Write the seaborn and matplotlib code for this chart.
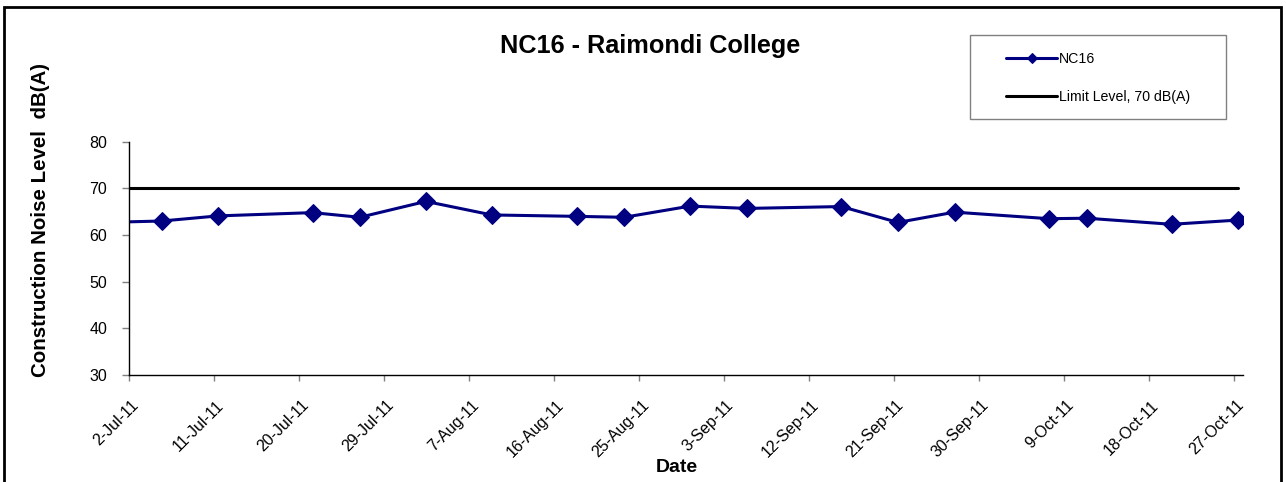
import matplotlib
matplotlib.use("Agg")
import matplotlib.pyplot as plt
import matplotlib.dates as mdates
from matplotlib.patches import Rectangle
from matplotlib.transforms import ScaledTranslation
import seaborn as sns
import pandas as pd

# ---------------- data ----------------
dates = ["2011-06-29 10:00", "2011-07-05 10:00", "2011-07-11 10:00", "2011-07-21 10:00",
         "2011-07-26 10:00", "2011-08-02 10:00", "2011-08-09 10:00", "2011-08-18 10:00",
         "2011-08-23 10:00", "2011-08-30 10:00", "2011-09-05 10:00", "2011-09-15 10:00",
         "2011-09-21 10:00", "2011-09-27 10:00", "2011-10-07 10:00", "2011-10-11 10:00",
         "2011-10-20 10:00", "2011-10-27 10:00"]
nc16 = [62.7, 63.0, 64.1, 64.8, 63.8, 67.2, 64.3, 64.0, 63.8, 66.2, 65.7, 66.1,
        62.7, 64.9, 63.5, 63.6, 62.3, 63.2]
limit = [70, 70, 70, 70, 70, 70, 70, 70, 70, 70, 70, 70, 70, 70, 70, 70, 70, 70]
tick_dates = ["2011-07-02", "2011-07-11", "2011-07-20", "2011-07-29", "2011-08-07",
              "2011-08-16", "2011-08-25", "2011-09-03", "2011-09-12", "2011-09-21",
              "2011-09-30", "2011-10-09", "2011-10-18", "2011-10-27"]
y_ticks = [30, 40, 50, 60, 70, 80]

df = pd.DataFrame({"date": pd.to_datetime(dates), "NC16": nc16, "limit": limit})

# ---------------- style ----------------
sns.set_style("white")
plt.rcParams["font.family"] = ["Liberation Sans", "DejaVu Sans"]
plt.rcParams["text.color"] = "black"
plt.rcParams["axes.labelcolor"] = "black"
plt.rcParams["xtick.color"] = "black"
plt.rcParams["ytick.color"] = "black"

W, H = 1286, 482
fig = plt.figure(figsize=(W / 100, H / 100), dpi=100)
x0, x1, y0, y1 = 129.3, 1243.3, 141.7, 375.0
ax = fig.add_axes([x0 / W, 1 - y1 / H, (x1 - x0) / W, (y1 - y0) / H])

sns.lineplot(data=df, x="date", y="NC16", ax=ax, color="#000080", linewidth=2.2,
             marker="D", markersize=9, markeredgecolor="#000080", label="NC16")
sns.lineplot(data=df, x="date", y="limit", ax=ax, color="black", linewidth=2.2,
             label="Limit Level, 70 dB(A)")

ax.set_xlim(pd.Timestamp("2011-07-02"), pd.Timestamp("2011-10-28"))
ax.set_ylim(30, 80)
ax.set_yticks(y_ticks)
ax.set_xticks(pd.to_datetime(tick_dates))
ax.xaxis.set_major_formatter(
    matplotlib.ticker.FuncFormatter(
        lambda v, p: (lambda d: f"{d.day}-{d.strftime('%b-%y')}")(mdates.num2date(v))))

for s in ["top", "right"]:
    ax.spines[s].set_visible(False)
for s in ["left", "bottom"]:
    ax.spines[s].set_color("black")
    ax.spines[s].set_linewidth(1.0)

ax.tick_params(axis="y", direction="out", length=5, width=1, color="#808080",
               labelsize=11.5, labelcolor="black", pad=11, left=True)
ax.tick_params(axis="x", direction="out", length=4, width=1, color="#808080",
               labelsize=11.5, labelcolor="black", pad=0, bottom=True)
offset = ScaledTranslation(2 / 100, -17 / 100, fig.dpi_scale_trans)
for lab in ax.get_xticklabels():
    lab.set_rotation(45)
    lab.set_ha("right")
    lab.set_va("top")
    lab.set_rotation_mode("anchor")
    lab.set_transform(lab.get_transform() + offset)

ax.set_xlabel("")
ax.set_ylabel("")
fig.text(677 / W, 1 - 467 / H, "Date", ha="center", va="center",
         fontsize=14, fontweight="bold", color="black")
fig.text(41 / W, 1 - 220 / H, "Construction Noise Level  dB(A)", ha="center",
         va="center", rotation=90, fontsize=14.8, fontweight="bold", color="black")
fig.text(650 / W, 1 - 46 / H, "NC16 - Raimondi College", ha="center", va="center",
         fontsize=18.2, fontweight="bold", color="black")

# legend
leg = ax.legend(loc="center left", bbox_to_anchor=(999 / W, 1 - 78 / H),
                bbox_transform=fig.transFigure, frameon=False, fontsize=10.2,
                handlelength=3.6, handletextpad=0.1, labelspacing=1.7,
                borderpad=0, markerscale=0.6)
for t in leg.get_texts():
    t.set_color("black")
fig.patches.append(Rectangle((970 / W, 1 - 119 / H), (1226 - 970) / W, (119 - 35) / H,
                             transform=fig.transFigure, fill=False,
                             edgecolor="#808080", linewidth=1.0))

# outer chart border
fig.patches.append(Rectangle((4 / W, -0.05), (1281 - 4) / W, 1 - 6.5 / H + 0.05,
                             transform=fig.transFigure, fill=False,
                             edgecolor="black", linewidth=2.0))

fig.savefig("out.png", dpi=100)
